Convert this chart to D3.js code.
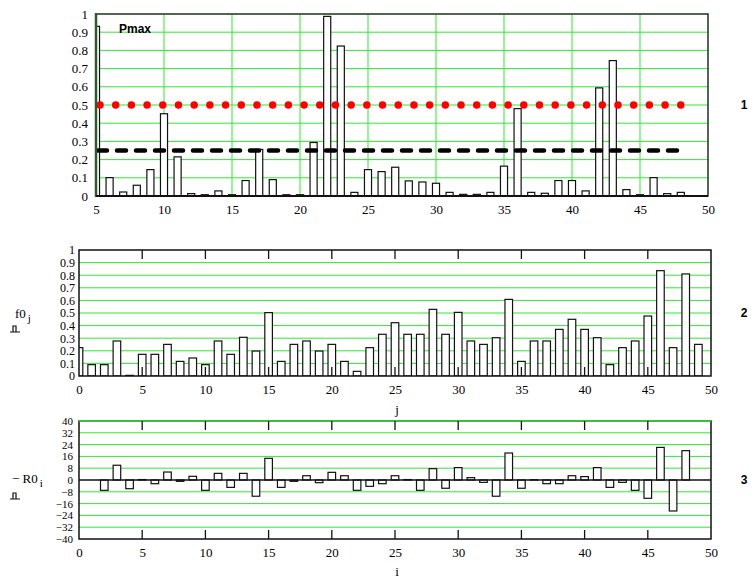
<!DOCTYPE html>
<html>
<head>
<meta charset="utf-8">
<script src="https://cdn.jsdelivr.net/npm/d3@7"></script>
<style>
  body { margin: 0; background: #fff; }
</style>
</head>
<body>
<div id="chart"></div>
<script>
// Panel 1: Pmax for i = 5..48
let pmaxStart = 5;
let pmax = [0.932, 0.101, 0.022, 0.059, 0.145, 0.452, 0.215, 0.013, 0.007, 0.028,
            0.007, 0.085, 0.256, 0.09, 0.007, 0.007, 0.294, 0.987, 0.824, 0.02,
            0.145, 0.134, 0.158, 0.083, 0.077, 0.07, 0.02, 0.009, 0.009, 0.02,
            0.164, 0.48, 0.02, 0.015, 0.085, 0.085, 0.028, 0.594, 0.744, 0.035,
            0.007, 0.101, 0.013, 0.02];
let pmaxLevels = [0.5, 0.25];
let levelRange = [5, 48];

// Panel 2: f0 for j = 0..49
let f0 = [0.225, 0.09, 0.09, 0.278, 0.005, 0.172, 0.172, 0.251, 0.116, 0.143,
          0.09, 0.278, 0.172, 0.307, 0.198, 0.503, 0.116, 0.251, 0.278, 0.198,
          0.251, 0.116, 0.037, 0.225, 0.331, 0.423, 0.331, 0.331, 0.529, 0.331,
          0.505, 0.278, 0.251, 0.304, 0.608, 0.116, 0.278, 0.278, 0.37, 0.45,
          0.37, 0.304, 0.09, 0.225, 0.278, 0.476, 0.836, 0.225, 0.81, 0.251];

// Panel 3: -R0 for i = 0..49
let r0neg = [0, 0, -7, 10, -5.9, 0.3, -2.5, 5.4, -0.9, 2.5,
             -7, 4.5, -5, 4.5, -11, 14.7, -5, -0.9, 2.9, -1.8,
             5.2, 2.9, -7, -4.3, -2.5, 2.9, 0.3, -7, 7.7, -5.6,
             8.4, 1.6, -1.6, -11, 18.3, -5.6, 0.2, -2.5, -2.5, 2.9,
             2.3, 8.4, -5, -1.6, -7, -12.4, 22.1, -21, 19.9, 0];

let xTicks = [0, 5, 10, 15, 20, 25, 30, 35, 40, 45, 50];
let unitTicks = [0, 0.1, 0.2, 0.3, 0.4, 0.5, 0.6, 0.7, 0.8, 0.9, 1];
let r0Ticks = [-40, -32, -24, -16, -8, 0, 8, 16, 24, 32, 40];

let gridColor = "#33e633";
let serif = "Liberation Serif, Times New Roman, serif";
let sans = "Liberation Sans, Arial, sans-serif";
let W = 756, H = 578;

let svg = d3.select("#chart").append("svg")
    .attr("width", W)
    .attr("height", H);

let fmt = d => (d < 0 ? "\u2212" : "") + String(+Math.abs(d).toFixed(1));

/**
 * Draw one panel: grid, bars, frame, ticks, labels.
 */
function drawPanel(p) {
    let g = svg.append("g");
    let x = d3.scaleLinear().domain(p.xDomain).range(p.xRange);
    let y = d3.scaleLinear().domain(p.yDomain).range(p.yRange);
    let left = p.xRange[0], right = p.xRange[1];
    let top = p.yRange[1], bottom = p.yRange[0];

    let clipId = "clip" + p.id;
    g.append("clipPath").attr("id", clipId)
        .append("rect")
        .attr("x", left).attr("y", top)
        .attr("width", right - left).attr("height", bottom - top);

    // horizontal grid
    g.selectAll(".hgrid")
        .data(p.yTicks.filter(t => t != p.yDomain[0] && t != p.yDomain[1] && t != p.baseline))
        .enter().append("line")
        .attr("x1", left).attr("x2", right)
        .attr("y1", d => y(d)).attr("y2", d => y(d))
        .attr("stroke", gridColor).attr("stroke-width", 1);

    // vertical grid
    if (p.vgrid) {
        g.selectAll(".vgrid")
            .data(xTicks.filter(t => t > p.xDomain[0] && t < p.xDomain[1]))
            .enter().append("line")
            .attr("y1", top).attr("y2", bottom)
            .attr("x1", d => x(d)).attr("x2", d => x(d))
            .attr("stroke", gridColor).attr("stroke-width", 1);
    }

    // bars
    let bw = (x(1) - x(0)) * p.barWidth;
    g.append("g").attr("clip-path", "url(#" + clipId + ")")
        .selectAll("rect")
        .data(p.values.map((v, k) => ({i: k + p.start, v: v})).filter(d => d.v != 0))
        .enter().append("rect")
        .attr("x", d => x(d.i) - bw / 2)
        .attr("width", bw)
        .attr("y", d => Math.min(y(d.v), y(p.baseline)))
        .attr("height", d => Math.abs(y(d.v) - y(p.baseline)))
        .attr("fill", "#fff")
        .attr("stroke", "#111")
        .attr("stroke-width", 1.2);

    if (p.extra) p.extra(g, x, y);

    // frame
    g.append("rect")
        .attr("x", left).attr("y", top)
        .attr("width", right - left).attr("height", bottom - top)
        .attr("fill", "none")
        .attr("stroke", p.frameColor || "#111")
        .attr("stroke-width", 1.5);

    if (p.baseline != p.yDomain[0]) {
        g.append("line")
            .attr("x1", left).attr("x2", right)
            .attr("y1", y(p.baseline)).attr("y2", y(p.baseline))
            .attr("stroke", "#111").attr("stroke-width", 1.5);
    }
    if (p.topGreen) {
        g.append("line")
            .attr("x1", left).attr("x2", right)
            .attr("y1", top).attr("y2", top)
            .attr("stroke", gridColor).attr("stroke-width", 1.5);
    }
    if (p.leftColor) {
        g.append("line")
            .attr("x1", left).attr("x2", left)
            .attr("y1", top - 1).attr("y2", bottom + 1)
            .attr("stroke", p.leftColor).attr("stroke-width", 2.5);
        g.append("line")
            .attr("x1", left).attr("x2", right)
            .attr("y1", bottom).attr("y2", bottom)
            .attr("stroke", "#111").attr("stroke-width", 1.8);
    }

    // inner tick marks at top and bottom
    if (p.innerTicks) {
        let inner = xTicks.filter(t => t > p.xDomain[0] && t < p.xDomain[1]);
        g.selectAll(".ttick").data(inner).enter().append("line")
            .attr("x1", d => x(d)).attr("x2", d => x(d))
            .attr("y1", top).attr("y2", top + 9)
            .attr("stroke", "#111").attr("stroke-width", 1.3);
        g.selectAll(".btick").data(inner).enter().append("line")
            .attr("x1", d => x(d)).attr("x2", d => x(d))
            .attr("y1", bottom).attr("y2", bottom - 9)
            .attr("stroke", "#111").attr("stroke-width", 1.3);
    }

    // axes labels
    let xa = g.append("g")
        .attr("transform", "translate(0," + (bottom + 6) + ")")
        .call(d3.axisBottom(x).tickValues(xTicks.filter(t => t >= p.xDomain[0])).tickSize(0).tickPadding(3));
    xa.select(".domain").remove();
    xa.attr("font-family", serif).attr("font-size", 13);
    xa.selectAll("text").attr("font-family", serif).attr("font-size", 13).attr("fill", "#000");

    let ya = g.append("g")
        .attr("transform", "translate(" + (left - p.yLabelGap) + ",0)")
        .call(d3.axisLeft(y).tickValues(p.yTicks).tickSize(0).tickPadding(0).tickFormat(fmt));
    ya.select(".domain").remove();
    ya.attr("font-family", serif).attr("font-size", p.yFont);
    ya.selectAll("text").attr("font-family", serif).attr("font-size", p.yFont).attr("fill", "#000");

    // panel number
    g.append("text")
        .attr("font-family", sans).attr("font-weight", "bold").attr("font-size", 12)
        .attr("x", 744).attr("y", (top + bottom) / 2 + 4)
        .attr("text-anchor", "middle")
        .text(p.id);
}

/**
 * Mathcad style placeholder glyph below the axis name.
 */
function placeholder(cx, cy) {
    svg.append("path")
        .attr("d", "M" + (cx - 5) + "," + cy + "H" + (cx + 5) +
             "M" + (cx - 2) + "," + cy + "V" + (cy - 6) + "H" + (cx + 1) + "V" + cy)
        .attr("fill", "none").attr("stroke", "#111").attr("stroke-width", 1.2);
}

drawPanel({
    id: 1,
    start: pmaxStart, values: pmax,
    xDomain: [5, 50], xRange: [96, 708],
    yDomain: [0, 1], yRange: [196, 14],
    yTicks: unitTicks, baseline: 0,
    barWidth: 0.52, vgrid: true,
    frameColor: "#1d331d", leftColor: "#2c5a2c",
    yLabelGap: 8, yFont: 13,
    extra: function(g, x, y) {
        let x1 = x(levelRange[0]) + 4, x2 = x(levelRange[1]);
        let n = Math.round((x2 - x1) / 15.75);
        g.append("line")
            .attr("x1", x1).attr("x2", x2)
            .attr("y1", y(pmaxLevels[0])).attr("y2", y(pmaxLevels[0]))
            .attr("stroke", "#ff0000").attr("stroke-width", 7.5)
            .attr("stroke-linecap", "round").attr("stroke-dasharray", "0 " + ((x2 - x1) / n - 0.001));
        g.append("line")
            .attr("x1", x(levelRange[0]) + 2).attr("x2", x(levelRange[1]) - 2)
            .attr("y1", y(pmaxLevels[1])).attr("y2", y(pmaxLevels[1]))
            .attr("stroke", "#000").attr("stroke-width", 4.5)
            .attr("stroke-linecap", "round").attr("stroke-dasharray", "9 10");
        g.append("text")
            .attr("x", 119).attr("y", 33)
            .attr("font-family", sans)
            .attr("font-weight", "bold").attr("font-size", 12)
            .text("Pmax");
    }
});

drawPanel({
    id: 2,
    start: 0, values: f0,
    xDomain: [0, 50], xRange: [79, 711],
    yDomain: [0, 1], yRange: [376, 250],
    yTicks: unitTicks, baseline: 0,
    barWidth: 0.6, innerTicks: true,
    yLabelGap: 4, yFont: 12
});

drawPanel({
    id: 3,
    start: 0, values: r0neg,
    xDomain: [0, 50], xRange: [79, 711],
    yDomain: [-40, 40], yRange: [539, 421],
    yTicks: r0Ticks, baseline: 0,
    barWidth: 0.6, innerTicks: true, topGreen: true,
    yLabelGap: 6, yFont: 11
});

// axis names
let n2 = svg.append("text").attr("x", 15).attr("y", 318)
    .attr("font-family", serif).attr("font-size", 13);
n2.append("tspan").text("f0");
n2.append("tspan").attr("dy", 4).attr("font-size", 11).attr("dx", 2).text("j");
placeholder(15, 332);
svg.append("text").attr("x", 397).attr("y", 414)
    .attr("font-family", serif).attr("font-size", 13)
    .attr("text-anchor", "middle").text("j");

let n3 = svg.append("text").attr("x", 12).attr("y", 483)
    .attr("font-family", serif).attr("font-size", 13);
n3.append("tspan").text("\u2212 R0");
n3.append("tspan").attr("dy", 4).attr("font-size", 11).attr("dx", 2).text("i");
placeholder(15, 499);
svg.append("text").attr("x", 397).attr("y", 576)
    .attr("font-family", serif).attr("font-size", 13)
    .attr("text-anchor", "middle").text("i");
</script>
</body>
</html>
